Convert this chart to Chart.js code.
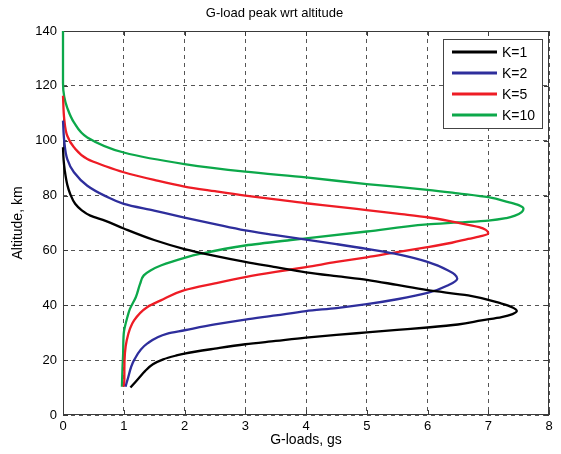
<!DOCTYPE html>
<html>
<head>
<meta charset="utf-8">
<script src="https://cdn.jsdelivr.net/npm/chart.js@4.4.1/dist/chart.umd.min.js"></script>
<style>
  html, body { margin: 0; padding: 0; background: #fff; }
  #wrap { width: 561px; height: 454px; }
</style>
</head>
<body>
<div id="wrap"><canvas id="chart" width="561" height="454"></canvas></div>
<script>
const seriesLabels = ["K=1", "K=2", "K=5", "K=10"];
const seriesColors = ["#000000", "#2e2e9c", "#ee1c25", "#0ca84a"];

// G-loads (x) and altitude in km (y)
const k1G = [1.11, 1.17, 1.25, 1.35, 1.48, 1.65, 1.85, 2.0, 2.5, 3.0, 3.5, 4.0, 4.5, 5.0, 5.5, 6.0, 6.5, 6.89, 7.22, 7.4, 7.47, 7.4, 7.22, 6.67, 6.0, 5.5, 5.0, 4.5, 4.0, 3.5, 3.0, 2.5, 2.0, 1.5, 1.0, 0.7, 0.45, 0.3, 0.2, 0.12, 0.07, 0.03, 0.01, 0];
const k1Alt = [10, 11.5, 13.5, 16, 18.5, 20.3, 21.6, 22.4, 24.2, 25.8, 27, 28.2, 29.2, 30.1, 31, 31.9, 33, 34.5, 35.7, 36.8, 37.9, 39.2, 40.6, 43.6, 45.5, 47.4, 49.3, 50.6, 52, 53.9, 55.8, 58, 60.5, 63.8, 68, 70.8, 72.7, 74.8, 77, 80.5, 84, 89, 93, 97.6];

const k2G = [1.03, 1.06, 1.17, 1.39, 1.72, 2.0, 2.5, 3.0, 3.5, 4.0, 4.5, 5.0, 5.5, 6.0, 6.34, 6.49, 6.45, 6.34, 6.0, 5.46, 5.0, 4.5, 4.0, 3.5, 3.0, 2.5, 2.0, 1.5, 1.0, 0.7, 0.4, 0.18, 0.07, 0.02, 0];
const k2Alt = [10.3, 12.7, 20, 26.1, 29.7, 30.9, 33, 34.8, 36.3, 37.9, 39, 40.4, 42.2, 44.5, 47.3, 49.7, 51.2, 52.7, 55.8, 58.8, 60.6, 62.3, 63.9, 65.6, 67.3, 69.6, 72, 74.5, 77, 79.8, 83.6, 88.5, 93.3, 100, 107.3];

const k5G = [1.0, 1.01, 1.01, 1.05, 1.17, 1.39, 1.61, 2.0, 2.5, 3.0, 3.5, 4.0, 4.5, 5.0, 5.5, 6.0, 6.4, 6.67, 6.9, 7.0, 6.96, 6.85, 6.45, 6.0, 5.5, 5.0, 4.5, 4.0, 3.5, 3.0, 2.5, 2.0, 1.5, 1.0, 0.7, 0.4, 0.18, 0.07, 0.02, 0];
const k5Alt = [10.3, 13, 16.4, 27.3, 34.5, 39.4, 41.8, 45.5, 48, 50.3, 52.2, 53.9, 55.8, 57.5, 59.4, 61.2, 62.8, 64.2, 65.3, 66.3, 67.5, 68.5, 70.3, 72.1, 73.4, 74.7, 76, 77.2, 78.6, 80, 81.6, 83.3, 85.7, 88.5, 90.7, 93.3, 97.6, 101.8, 108, 116.4];

const k10G = [0.97, 0.98, 0.99, 1.0, 1.06, 1.1, 1.2, 1.27, 1.33, 1.44, 1.61, 2.0, 2.27, 3.0, 3.75, 4.0, 5.0, 6.0, 6.5, 7.0, 7.3, 7.44, 7.55, 7.58, 7.5, 7.33, 7.0, 6.5, 6.0, 5.0, 4.0, 3.0, 2.0, 1.0, 0.4, 0.18, 0.07, 0.02, 0, 0];
const k10Alt = [10.3, 17.6, 22.4, 29.7, 35.7, 38.6, 43, 47.9, 50.9, 52.7, 54.5, 57.3, 58.8, 61.8, 63.8, 64.4, 66.9, 69.5, 70.2, 70.9, 71.8, 72.7, 74, 75.2, 76.5, 77.6, 79.4, 80.8, 82.1, 84.2, 86.6, 88.7, 91.5, 95.7, 101.2, 106.7, 112, 116, 121, 140];

const gTicks = [0, 1, 2, 3, 4, 5, 6, 7, 8];
const altTicks = [0, 20, 40, 60, 80, 100, 120, 140];

function toPoints(g, alt) {
  return g.map((v, i) => ({ x: v, y: alt[i] }));
}

const curves = [[k1G, k1Alt], [k2G, k2Alt], [k5G, k5Alt], [k10G, k10Alt]];

Chart.defaults.font.family = "'Liberation Sans', Arial, sans-serif";
Chart.defaults.color = "#000";

// box around the axes plus inward tick marks, like the original plot
const frame = {
  id: "frame",
  beforeDatasetsDraw(chart) {
    const { ctx, chartArea: a, scales } = chart;
    ctx.save();
    ctx.setLineDash([]);
    ctx.strokeStyle = "#3a3a3a";
    ctx.lineWidth = 1;
    ctx.strokeRect(a.left + 0.5, a.top + 0.5, a.right - a.left - 1, a.bottom - a.top - 1);
    ctx.beginPath();
    for (const v of gTicks) {
      const x = Math.round(scales.x.getPixelForValue(v)) + 0.5;
      ctx.moveTo(x, a.bottom); ctx.lineTo(x, a.bottom - 5);
      ctx.moveTo(x, a.top); ctx.lineTo(x, a.top + 5);
    }
    for (const v of altTicks) {
      const y = Math.round(scales.y.getPixelForValue(v)) + 0.5;
      ctx.moveTo(a.left, y); ctx.lineTo(a.left + 5, y);
      ctx.moveTo(a.right, y); ctx.lineTo(a.right - 5, y);
    }
    ctx.stroke();
    ctx.restore();
  },
};

// boxed legend in the top right corner of the axes
const boxLegend = {
  id: "boxLegend",
  afterDatasetsDraw(chart) {
    const { ctx, chartArea: a } = chart;
    const left = a.right - 106, top = a.top + 8, w = 99, h = 89;
    ctx.save();
    ctx.fillStyle = "#fff";
    ctx.fillRect(left, top, w, h);
    ctx.strokeStyle = "#444";
    ctx.lineWidth = 1;
    ctx.strokeRect(left + 0.5, top + 0.5, w, h);
    ctx.font = "14px 'Liberation Sans', Arial, sans-serif";
    ctx.textBaseline = "middle";
    ctx.fillStyle = "#000";
    chart.data.datasets.forEach((ds, i) => {
      const y = top + 13 + i * 21;
      ctx.strokeStyle = ds.borderColor;
      ctx.lineWidth = 3;
      ctx.beginPath();
      ctx.moveTo(left + 9, y);
      ctx.lineTo(left + 54, y);
      ctx.stroke();
      ctx.fillText(ds.label, left + 59, y + 1);
    });
    ctx.restore();
  },
};

new Chart(document.getElementById("chart"), {
  type: "line",
  data: {
    datasets: curves.map(([g, alt], i) => ({
      label: seriesLabels[i],
      data: toPoints(g, alt),
      borderColor: seriesColors[i],
      backgroundColor: seriesColors[i],
      borderWidth: 2.3,
      pointRadius: 0,
      cubicInterpolationMode: "monotone",
      fill: false,
      clip: false,
    })),
  },
  options: {
    indexAxis: "y",
    responsive: false,
    animation: false,
    layout: { padding: { left: 0, right: 12, top: 0, bottom: 0 } },
    plugins: {
      legend: { display: false },
      tooltip: { enabled: false },
      title: {
        display: true,
        text: "G-load peak wrt altitude",
        font: { size: 13, weight: "normal" },
        color: "#000",
        padding: { top: 6, bottom: 9.4 },
      },
    },
    scales: {
      x: {
        type: "linear",
        min: 0,
        max: 8,
        afterBuildTicks: (s) => { s.ticks = gTicks.map((v) => ({ value: v })); },
        afterFit: (s) => { s.height = 39; },
        ticks: { font: { size: 13 }, padding: 4, color: "#000" },
        grid: { color: "#555", lineWidth: 1, drawTicks: false },
        border: { display: false, dash: [4, 4] },
        title: {
          display: true,
          text: "G-loads, gs",
          font: { size: 14 },
          color: "#000",
          padding: { top: 0, bottom: 5 },
        },
      },
      y: {
        type: "linear",
        min: 0,
        max: 140,
        afterBuildTicks: (s) => { s.ticks = altTicks.map((v) => ({ value: v })); },
        afterFit: (s) => { s.width = 63; },
        ticks: { font: { size: 13 }, padding: 6, color: "#000" },
        grid: { color: "#555", lineWidth: 1, drawTicks: false },
        border: { display: false, dash: [4, 4] },
        title: {
          display: true,
          text: "Altitude, km",
          font: { size: 14 },
          color: "#000",
          padding: { top: 10, bottom: 0 },
        },
      },
    },
  },
  plugins: [frame, boxLegend],
});
</script>
</body>
</html>
